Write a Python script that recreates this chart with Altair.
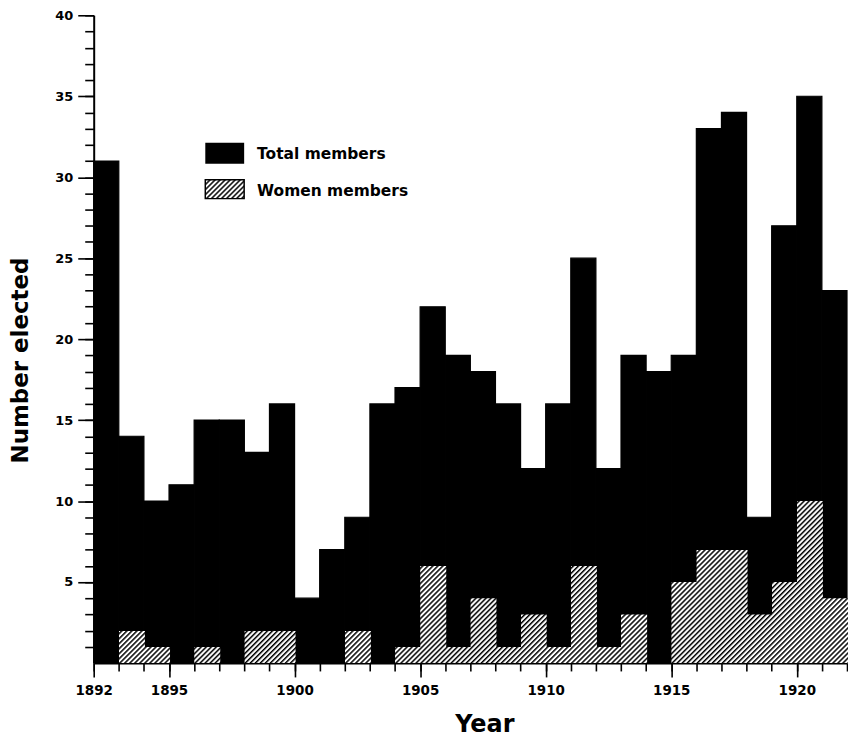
import base64
import altair as alt
import pandas as pd

# ---- data ----
YEARS = [1892, 1893, 1894, 1895, 1896, 1897, 1898, 1899, 1900, 1901,
         1902, 1903, 1904, 1905, 1906, 1907, 1908, 1909, 1910, 1911,
         1912, 1913, 1914, 1915, 1916, 1917, 1918, 1919, 1920, 1921]
TOTAL = [31, 14, 10, 11, 15, 15, 13, 16, 4, 7,
         9, 16, 17, 22, 19, 18, 16, 12, 16, 25,
         12, 19, 18, 19, 33, 34, 9, 27, 35, 23]
WOMEN = [0, 2, 1, 0, 1, 0, 2, 2, 0, 0,
         2, 0, 1, 6, 1, 4, 1, 3, 1, 6,
         1, 3, 0, 5, 7, 7, 3, 5, 10, 4]
X_LABEL_YEARS = [1892, 1895, 1900, 1905, 1910, 1915, 1920]
X_MINOR_TICKS = YEARS + [1922]
Y_LABEL_VALUES = [5, 10, 15, 20, 25, 30, 35, 40]
Y_MINOR_TICKS = list(range(1, 41))
LEGEND_LABELS = ["Total members", "Women members"]

df = pd.DataFrame({"year": YEARS, "total": TOTAL, "women": WOMEN})
legend_df = pd.DataFrame({"label": LEGEND_LABELS})

# hatch tile (diagonal "/" lines); the pattern is anchored at the bottom-left
# corner of each image so that neighbouring hatched bars join seamlessly
HATCH_SVG = (
    '<svg xmlns="http://www.w3.org/2000/svg" width="100%" height="100%">'
    '<defs><pattern id="h" width="3.564" height="3.564" patternUnits="userSpaceOnUse" '
    'patternTransform="rotate(45)">'
    '<rect width="3.564" height="3.564" fill="white"/>'
    '<rect x="0" y="0" width="1.5" height="3.564" fill="black"/>'
    '</pattern></defs>'
    '<svg x="0" y="100%" overflow="visible">'
    '<rect x="0" y="-3000" width="3000" height="3000" fill="url(#h)"/></svg></svg>'
)
HATCH_URL = "data:image/svg+xml;base64," + base64.b64encode(HATCH_SVG.encode()).decode()

FONT = "DejaVu Sans"
xs = alt.Scale(domain=[1892, 1922], nice=False, zero=False)
ys = alt.Scale(domain=[0, 40], nice=False)

base = alt.Chart(df).transform_calculate(year_end="datum.year + 1", zero="0")

total_bars = base.mark_rect(color="black", stroke="black", strokeWidth=1.2).encode(
    x=alt.X("year:Q", scale=xs, axis=alt.Axis(
        orient="bottom", values=X_LABEL_YEARS, format="d", title="Year",
        tickSize=14, tickWidth=1.6, tickColor="black",
        domainColor="black", domainWidth=2,
        labelFlush=False, labelPadding=7, labelFont=FONT, labelFontWeight="bold",
        labelFontSize=13.5, labelColor="black",
        titleFont=FONT, titleFontSize=24, titleFontWeight="bold", titleColor="black",
        titleX=392, titleY=69, titleBaseline="alphabetic", titleAlign="center",
        grid=False)),
    x2="year_end:Q",
    y=alt.Y("total:Q", scale=ys, axis=alt.Axis(
        orient="left", values=Y_LABEL_VALUES, title="Number elected",
        tickSize=16, tickWidth=1.6, tickColor="black",
        domainColor="black", domainWidth=2,
        labelFlush=False, labelPadding=5, labelFont=FONT, labelFontWeight="bold",
        labelFontSize=13, labelColor="black",
        titleFont=FONT, titleFontSize=23, titleFontWeight="bold", titleColor="black",
        titleX=-66, titleY=346, titleBaseline="alphabetic", titleAlign="center",
        grid=False)),
    y2="zero:Q",
)

women_bars = base.mark_image(url=HATCH_URL, aspect=False, x2Offset=1).encode(
    x=alt.X("year:Q", scale=xs, axis=alt.Axis(
        orient="bottom", values=X_MINOR_TICKS, labels=False, domain=False,
        tickSize=8, tickWidth=1.6, tickColor="black", title="", grid=False)),
    x2="year_end:Q",
    y=alt.Y("women:Q", scale=ys, axis=alt.Axis(
        orient="left", values=Y_MINOR_TICKS, labels=False, domain=False,
        tickSize=9, tickWidth=1.6, tickColor="black", title="", grid=False)),
    y2="zero:Q",
)

legend_base = alt.Chart(legend_df)

leg_black = legend_base.transform_filter(
    alt.datum.label == LEGEND_LABELS[0]
).mark_rect(color="black").encode(
    x=alt.value(112), x2=alt.value(151), y=alt.value(128), y2=alt.value(149)
)
leg_hatch = legend_base.transform_filter(
    alt.datum.label == LEGEND_LABELS[1]
).mark_image(url=HATCH_URL, aspect=False).encode(
    x=alt.value(112), x2=alt.value(151), y=alt.value(165), y2=alt.value(184)
)
leg_hatch_border = legend_base.transform_filter(
    alt.datum.label == LEGEND_LABELS[1]
).mark_rect(fillOpacity=0, stroke="black", strokeWidth=1.5).encode(
    x=alt.value(112), x2=alt.value(151), y=alt.value(165), y2=alt.value(184)
)
leg_text1 = legend_base.transform_filter(
    alt.datum.label == LEGEND_LABELS[0]
).mark_text(align="left", baseline="alphabetic", font=FONT, fontSize=15.5,
            fontWeight="bold", color="black").encode(
    text="label:N", x=alt.value(164), y=alt.value(144)
)
leg_text2 = legend_base.transform_filter(
    alt.datum.label == LEGEND_LABELS[1]
).mark_text(align="left", baseline="alphabetic", font=FONT, fontSize=15.5,
            fontWeight="bold", color="black").encode(
    text="label:N", x=alt.value(164), y=alt.value(181)
)

chart = alt.layer(
    total_bars, women_bars, leg_black, leg_hatch, leg_hatch_border, leg_text1, leg_text2
).resolve_axis(
    x="independent", y="independent"
).properties(
    width=756, height=650,
    padding={"left": 2, "top": 0, "right": 0, "bottom": 0},
    background="white",
).configure_view(stroke="transparent")

chart.save("out.html", embed_options={"renderer": "svg", "actions": False})
